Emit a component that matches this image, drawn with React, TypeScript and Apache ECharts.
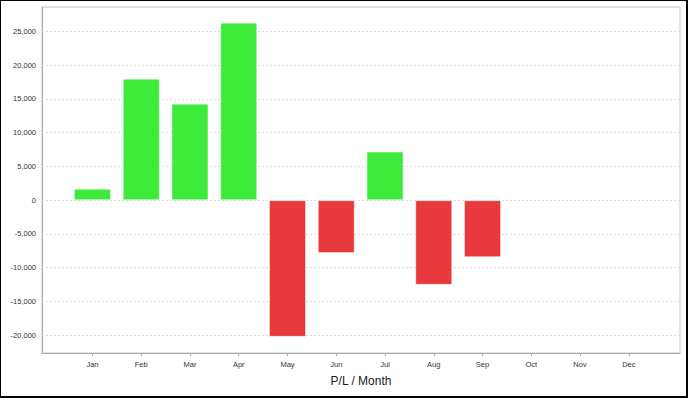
import React, { useEffect, useRef } from "react";
import * as echarts from "echarts";

const months = ["Jan", "Feb", "Mar", "Apr", "May", "Jun", "Jul", "Aug", "Sep", "Oct", "Nov", "Dec"];
const plValues = [1700, 18000, 14300, 26300, -20250, -7850, 7200, -12550, -8450];
const yTicks = [-20000, -15000, -10000, -5000, 0, 5000, 10000, 15000, 20000, 25000];
const axisTitle = "P/L / Month";

const GREEN = "#3EEA3A";
const RED = "#E8393D";

export default function App() {
  const ref = useRef<HTMLDivElement>(null);
  useEffect(() => {
    if (!ref.current) return;
    const chart = echarts.init(ref.current, undefined, { renderer: "svg" });
    const monthIdx = months.map((_, i) => i);
    chart.setOption({
      animation: false,
      textStyle: { fontFamily: "Liberation Sans, Arial, sans-serif" },
      grid: {
        left: 42,
        top: 7,
        right: 8,
        bottom: 45,
        show: true,
        borderColor: "#c4c4c4",
        borderWidth: 1,
        containLabel: false,
      },
      xAxis: {
        type: "value",
        min: -1.035,
        max: 12.05,
        name: axisTitle,
        nameLocation: "middle",
        nameGap: 22,
        nameTextStyle: { fontSize: 12, color: "#222", fontFamily: "Liberation Sans, Arial, sans-serif" },
        axisLine: { show: true, onZero: false, lineStyle: { color: "#aaa", width: 1 } },
        axisTick: { show: true, length: 3, customValues: monthIdx, lineStyle: { color: "#aaa" } },
        axisLabel: {
          customValues: monthIdx,
          formatter: (v: number) => months[Math.round(v)] ?? "",
          fontSize: 7.5,
          color: "#333",
          margin: 7,
        },
        splitLine: { show: false },
      },
      yAxis: {
        type: "value",
        min: -22650,
        max: 28620,
        axisLine: { show: true, onZero: false, lineStyle: { color: "#aaa", width: 1 } },
        axisTick: { show: false },
        axisLabel: {
          customValues: yTicks,
          formatter: (v: number) => v.toLocaleString("en-US"),
          fontSize: 7.5,
          color: "#333",
          margin: 6,
        },
        splitLine: { show: false },
      },
      series: [
        {
          type: "bar",
          z: 3,
          barWidth: 37,
          data: plValues.map((v, i) => ({
            value: [i, v],
            itemStyle: {
              color: v >= 0 ? GREEN : RED,
              borderColor: "rgba(255,255,255,0.45)",
              borderWidth: 1,
            },
          })),
          markLine: {
            silent: true,
            z: 1,
            symbol: ["none", "none"],
            label: { show: false },
            lineStyle: { color: "#dcdcdc", type: [2, 2], width: 1 },
            data: yTicks.map((t) => ({ yAxis: t })),
          },
        },
      ],
    });
    return () => chart.dispose();
  }, []);

  return (
    <div style={{ position: "fixed", left: 0, top: 0, width: 688, height: 398, background: "#fff" }}>
      <div ref={ref} style={{ position: "absolute", left: 0, top: 0, width: 688, height: 398 }} />
      <div
        style={{
          position: "absolute",
          left: 0,
          top: 0,
          width: 688,
          height: 398,
          boxSizing: "border-box",
          borderTop: "1px solid #000",
          borderLeft: "1px solid #000",
          borderRight: "2px solid #000",
          borderBottom: "2px solid #000",
          pointerEvents: "none",
        }}
      />
    </div>
  );
}
